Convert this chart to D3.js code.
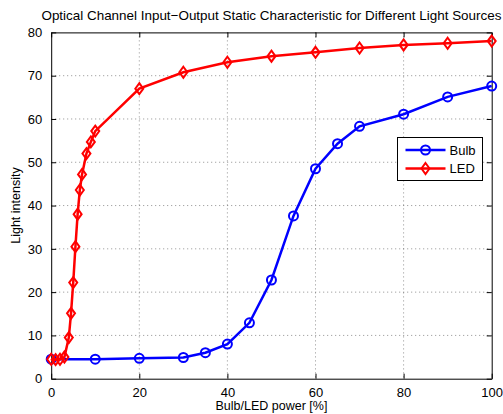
<!DOCTYPE html>
<html>
<head>
<meta charset="utf-8">
<script src="https://cdn.jsdelivr.net/npm/d3@7"></script>
<style>
  body { margin: 0; background: #fff; }
  text { font-family: "Liberation Sans", Arial, sans-serif; }
</style>
</head>
<body>
<div id="chart"></div>
<script>
const bulbX = [0, 10, 20, 30, 35, 40, 45, 50, 55, 60, 65, 70, 80, 90, 100];
const bulbY = [4.5, 4.5, 4.7, 4.9, 6.0, 8.0, 12.9, 22.8, 37.6, 48.5, 54.3, 58.3, 61.1, 65.1, 67.6];
const ledX = [0, 1, 2, 3, 4, 4.5, 5, 5.5, 6, 6.5, 7, 8, 9, 10, 20, 30, 40, 50, 60, 70, 80, 90, 100];
const ledY = [4.5, 4.4, 4.5, 5.0, 9.5, 15.1, 22.2, 30.5, 38, 43.6, 47.2, 52, 54.7, 57.2, 67, 70.8, 73.1, 74.5, 75.4, 76.4, 77.1, 77.5, 78];
const xTicks = [0, 20, 40, 60, 80, 100];
const yTicks = [0, 10, 20, 30, 40, 50, 60, 70, 80];

const width = 503, height = 414;
const margin = { top: 32.4, right: 11.3, bottom: 35.3, left: 51.2 };
const w = width - margin.left - margin.right;
const h = height - margin.top - margin.bottom;

const svg = d3.select("#chart").append("svg")
    .attr("width", width)
    .attr("height", height);

const g = svg.append("g")
    .attr("transform", "translate(" + margin.left + "," + margin.top + ")");

const x = d3.scaleLinear().domain([0, 100]).range([0, w]);
const y = d3.scaleLinear().domain([0, 80]).range([h, 0]);

// grid
g.selectAll(".gx").data(xTicks.slice(1, -1)).enter().append("line")
    .attr("x1", d => x(d)).attr("x2", d => x(d))
    .attr("y1", 0).attr("y2", h)
    .attr("stroke", "#444").attr("stroke-width", 0.6)
    .attr("stroke-dasharray", "1,3");
g.selectAll(".gy").data(yTicks.slice(1, -1)).enter().append("line")
    .attr("x1", 0).attr("x2", w)
    .attr("y1", d => y(d)).attr("y2", d => y(d))
    .attr("stroke", "#444").attr("stroke-width", 0.6)
    .attr("stroke-dasharray", "1,3");

// axes with inward ticks on all sides
const fmt = d3.format("d");
const axB = g.append("g").attr("transform", "translate(0," + h + ")")
    .call(d3.axisBottom(x).tickValues(xTicks).tickSizeInner(-5).tickSizeOuter(0).tickPadding(9).tickFormat(fmt));
const axT = g.append("g")
    .call(d3.axisTop(x).tickValues(xTicks).tickSizeInner(-5).tickSizeOuter(0).tickFormat(""));
const axL = g.append("g")
    .call(d3.axisLeft(y).tickValues(yTicks).tickSizeInner(-5).tickSizeOuter(0).tickPadding(9).tickFormat(fmt));
const axR = g.append("g").attr("transform", "translate(" + w + ",0)")
    .call(d3.axisRight(y).tickValues(yTicks).tickSizeInner(-5).tickSizeOuter(0).tickFormat(""));

[axB, axT, axL, axR].forEach(a => {
    a.select(".domain").attr("stroke", "#000").attr("stroke-width", 1);
    a.selectAll(".tick line").attr("stroke", "#000");
    a.selectAll("text").attr("font-size", 13).attr("fill", "#000")
        .style("font-family", "'Liberation Sans', Arial, sans-serif");
});

const line = d3.line().x(d => x(d[0])).y(d => y(d[1]));
const bulb = bulbX.map((d, i) => [d, bulbY[i]]);
const led = ledX.map((d, i) => [d, ledY[i]]);

const blue = "#0000ff", red = "#ff0000";

g.append("path").datum(bulb)
    .attr("fill", "none").attr("stroke", blue).attr("stroke-width", 2.5)
    .attr("d", line);
g.selectAll(".bm").data(bulb).enter().append("circle")
    .attr("cx", d => x(d[0])).attr("cy", d => y(d[1])).attr("r", 4.5)
    .attr("fill", "none").attr("stroke", blue).attr("stroke-width", 2);

const diamond = "M0,-5.5L4,0L0,5.5L-4,0Z";
g.append("path").datum(led)
    .attr("fill", "none").attr("stroke", red).attr("stroke-width", 2.5)
    .attr("d", line);
g.selectAll(".lm").data(led).enter().append("path")
    .attr("transform", d => "translate(" + x(d[0]) + "," + y(d[1]) + ")")
    .attr("d", diamond)
    .attr("fill", "none").attr("stroke", red).attr("stroke-width", 2);

// title and labels
svg.append("text")
    .attr("x", margin.left + w / 2).attr("y", 20)
    .attr("text-anchor", "middle").attr("font-size", 13.2)
    .attr("textLength", 460).attr("lengthAdjust", "spacingAndGlyphs")
    .text("Optical Channel Input\u2212Output Static Characteristic for Different Light Sources");
svg.append("text")
    .attr("x", margin.left + w / 2).attr("y", 410)
    .attr("text-anchor", "middle").attr("font-size", 12.5)
    .text("Bulb/LED power [%]");
svg.append("text")
    .attr("transform", "translate(20," + (margin.top + h / 2) + ") rotate(-90)")
    .attr("text-anchor", "middle").attr("font-size", 12.5)
    .text("Light intensity");

// legend
const lg = svg.append("g").attr("transform", "translate(397.5,137.5)");
lg.append("rect").attr("width", 85).attr("height", 43)
    .attr("fill", "#fff").attr("stroke", "#000").attr("stroke-width", 1);
const items = [{ name: "Bulb", color: blue, type: "circle" }, { name: "LED", color: red, type: "diamond" }];
items.forEach((it, i) => {
    const yy = 12.5 + i * 18.5;
    lg.append("line").attr("x1", 8).attr("x2", 48).attr("y1", yy).attr("y2", yy)
        .attr("stroke", it.color).attr("stroke-width", 2.5);
    if (it.type === "circle") {
        lg.append("circle").attr("cx", 28).attr("cy", yy).attr("r", 4.5)
            .attr("fill", "none").attr("stroke", it.color).attr("stroke-width", 2);
    } else {
        lg.append("path").attr("transform", "translate(28," + yy + ")").attr("d", diamond)
            .attr("fill", "none").attr("stroke", it.color).attr("stroke-width", 2);
    }
    lg.append("text").attr("x", 52).attr("y", yy + 4.5).attr("font-size", 13).text(it.name);
});
</script>
</body>
</html>
